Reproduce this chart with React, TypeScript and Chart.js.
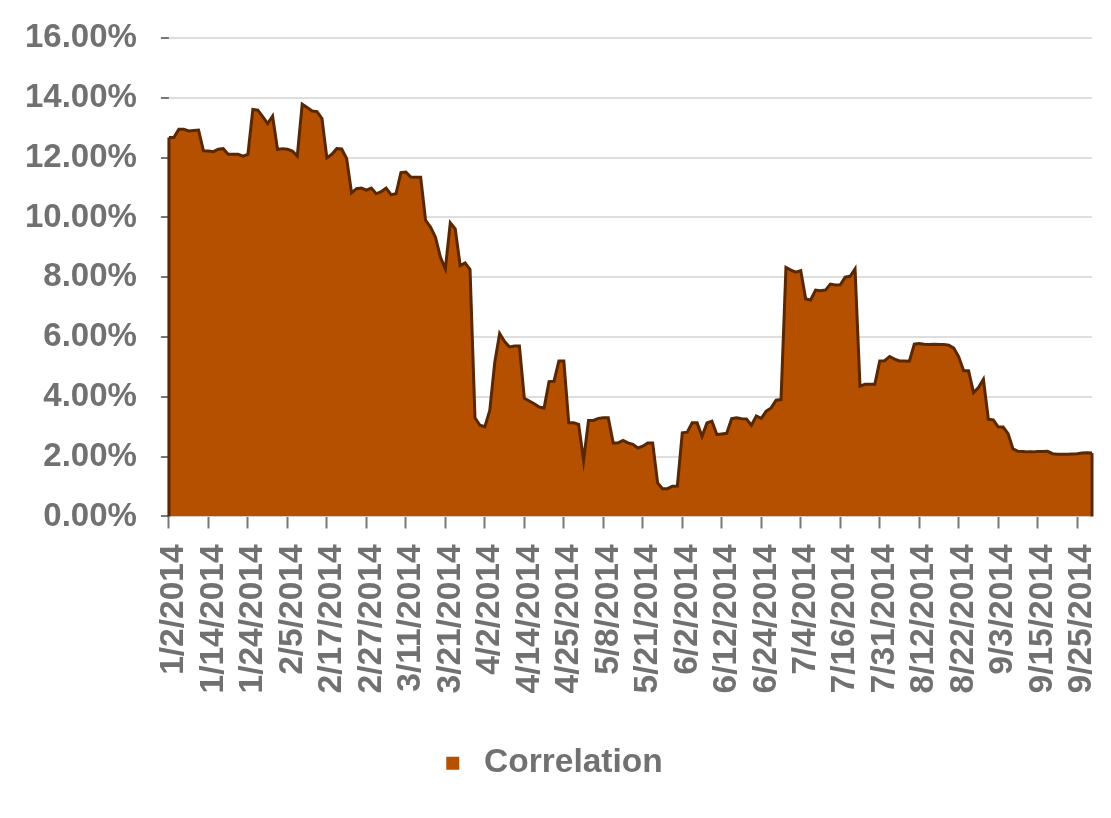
import React, { useEffect, useRef } from 'react';
import { Chart, registerables } from 'chart.js';

Chart.register(...registerables);

// Trading days (2014) per month
const JAN_DAYS = [2, 3, 6, 7, 8, 9, 10, 13, 14, 15, 16, 17, 20, 21, 22, 23, 24, 27, 28, 29, 30, 31];
const FEB_DAYS = [3, 4, 5, 6, 7, 10, 11, 12, 13, 14, 17, 18, 19, 20, 21, 24, 25, 26, 27, 28];
const MAR_DAYS = [3, 4, 5, 6, 7, 10, 11, 12, 13, 14, 17, 18, 19, 20, 21, 24, 25, 26, 27, 28, 31];
const APR_DAYS = [1, 2, 3, 4, 7, 8, 9, 10, 11, 14, 15, 16, 17, 21, 22, 23, 24, 25, 28, 29, 30];
const MAY_DAYS = [2, 5, 6, 7, 8, 9, 13, 14, 15, 16, 19, 20, 21, 22, 23, 26, 27, 28, 29, 30];
const JUN_DAYS = [2, 3, 4, 5, 6, 9, 10, 11, 12, 13, 16, 17, 18, 19, 20, 23, 24, 25, 26, 27, 30];
const JUL_DAYS = [1, 2, 3, 4, 7, 8, 9, 10, 11, 14, 15, 16, 17, 18, 21, 25, 28, 29, 30, 31];
const AUG_DAYS = [1, 4, 5, 6, 7, 8, 11, 12, 13, 14, 15, 18, 19, 20, 21, 22, 25, 26, 27, 28, 29];
const SEP_DAYS = [1, 2, 3, 4, 5, 8, 9, 10, 11, 12, 15, 16, 17, 18, 19, 22, 23, 24, 25, 26, 29, 30];

// Correlation values (%) per month
const JAN_VALUES = [12.67, 12.67, 12.95, 12.95, 12.89, 12.91, 12.92, 12.23, 12.22, 12.2, 12.28, 12.3, 12.11, 12.11, 12.11, 12.05, 12.11, 13.61, 13.59, 13.37, 13.14, 13.39];
const FEB_VALUES = [12.27, 12.3, 12.28, 12.22, 12.05, 13.79, 13.68, 13.56, 13.54, 13.31, 11.99, 12.11, 12.3, 12.29, 11.97, 10.82, 10.96, 10.98, 10.91, 10.98];
const MAR_VALUES = [10.79, 10.86, 10.98, 10.76, 10.79, 11.5, 11.52, 11.35, 11.34, 11.34, 9.9, 9.68, 9.34, 8.67, 8.28, 9.82, 9.62, 8.39, 8.48, 8.26, 3.3];
const APR_VALUES = [3.05, 3.0, 3.55, 5.14, 6.12, 5.85, 5.67, 5.7, 5.7, 3.95, 3.86, 3.77, 3.66, 3.63, 4.51, 4.52, 5.2, 5.2, 3.13, 3.13, 3.08];
const MAY_VALUES = [1.87, 3.21, 3.21, 3.28, 3.3, 3.3, 2.46, 2.46, 2.54, 2.46, 2.41, 2.29, 2.35, 2.46, 2.46, 1.12, 0.93, 0.93, 1.01, 1.02];
const JUN_VALUES = [2.8, 2.82, 3.13, 3.13, 2.68, 3.13, 3.19, 2.74, 2.76, 2.78, 3.27, 3.3, 3.27, 3.26, 3.05, 3.36, 3.28, 3.52, 3.63, 3.89, 3.91];
const JUL_VALUES = [8.33, 8.24, 8.17, 8.22, 7.27, 7.24, 7.57, 7.55, 7.57, 7.77, 7.74, 7.75, 8.0, 8.03, 8.28, 4.36, 4.42, 4.42, 4.42, 5.2];
const AUG_VALUES = [5.21, 5.35, 5.26, 5.2, 5.2, 5.19, 5.76, 5.78, 5.76, 5.75, 5.76, 5.75, 5.75, 5.73, 5.63, 5.34, 4.87, 4.87, 4.14, 4.31, 4.59];
const SEP_VALUES = [3.25, 3.23, 3.0, 2.99, 2.77, 2.26, 2.18, 2.17, 2.16, 2.16, 2.17, 2.17, 2.18, 2.1, 2.08, 2.08, 2.08, 2.09, 2.1, 2.12, 2.13, 2.12];

const Y_TICKS = [0, 2, 4, 6, 8, 10, 12, 14, 16];
const SERIES_NAME = 'Correlation';

const MONTH_DAYS = [JAN_DAYS, FEB_DAYS, MAR_DAYS, APR_DAYS, MAY_DAYS, JUN_DAYS, JUL_DAYS, AUG_DAYS, SEP_DAYS];
const MONTH_VALUES = [JAN_VALUES, FEB_VALUES, MAR_VALUES, APR_VALUES, MAY_VALUES, JUN_VALUES, JUL_VALUES, AUG_VALUES, SEP_VALUES];

const LABELS: string[] = MONTH_DAYS.flatMap((days, m) => days.map((d) => `${m + 1}/${d}/2014`));
const VALUES: number[] = MONTH_VALUES.flat();

const FILL = '#B45000';
const LINE = '#5A2700';
const TEXT = '#717171';
const GRID = '#DEDEDE';
const FONT = "'Liberation Sans', Arial, sans-serif";

const edgePlugin = {
  id: 'areaEdges',
  afterDatasetsDraw(chart: any) {
    const meta = chart.getDatasetMeta(0);
    if (!meta || !meta.data.length) return;
    const y0 = chart.scales.y.getPixelForValue(0);
    const ctx = chart.ctx;
    const pts = [meta.data[0], meta.data[meta.data.length - 1]];
    ctx.save();
    ctx.strokeStyle = LINE;
    ctx.lineWidth = 3;
    for (const p of pts) {
      ctx.beginPath();
      ctx.moveTo(p.x, p.y);
      ctx.lineTo(p.x, y0);
      ctx.stroke();
    }
    ctx.restore();
  },
};

export default function App() {
  const ref = useRef<HTMLCanvasElement | null>(null);

  useEffect(() => {
    if (!ref.current) return;
    const chart = new Chart(ref.current, {
      type: 'line',
      data: {
        labels: LABELS,
        datasets: [
          {
            label: SERIES_NAME,
            data: VALUES,
            fill: 'origin',
            backgroundColor: FILL,
            borderColor: LINE,
            borderWidth: 3,
            pointRadius: 0,
            tension: 0,
          },
        ],
      },
      options: {
        responsive: false,
        animation: false,
        devicePixelRatio: 1,
        layout: { padding: { top: 38, right: 19, left: 9, bottom: 28 } },
        plugins: {
          tooltip: { enabled: false },
          legend: {
            display: true,
            position: 'bottom',
            labels: {
              usePointStyle: true,
              boxWidth: 29,
              boxHeight: 13,
              padding: 37,
              color: TEXT,
              font: { family: FONT, size: 33.5, weight: 'bold' },
              generateLabels: () => [
                {
                  text: SERIES_NAME,
                  fillStyle: FILL,
                  strokeStyle: FILL,
                  lineWidth: 0,
                  pointStyle: 'rect',
                  hidden: false,
                  datasetIndex: 0,
                  fontColor: TEXT,
                },
              ],
            },
          },
        },
        scales: {
          x: {
            type: 'category',
            offset: false,
            border: { display: false },
            afterFit: (scale: any) => {
              scale.paddingRight = 0;
            },
            grid: {
              display: true,
              drawOnChartArea: false,
              drawTicks: true,
              tickLength: 12,
              tickColor: '#777777',
              tickWidth: 2,
            },
            ticks: {
              autoSkip: false,
              maxRotation: 90,
              minRotation: 90,
              padding: 16,
              labelOffset: 5,
              color: TEXT,
              font: { family: FONT, size: 33.5, weight: 'bold' },
              callback: (_v: any, idx: number) => (idx % 8 === 0 ? LABELS[idx] : null),
            },
          },
          y: {
            min: 0,
            max: 16,
            border: { display: false },
            afterBuildTicks: (scale: any) => {
              scale.ticks = Y_TICKS.map((v) => ({ value: v }));
            },
            afterFit: (scale: any) => {
              scale.paddingTop = 0;
              scale.paddingBottom = 0;
            },
            grid: {
              color: GRID,
              lineWidth: 2,
              drawTicks: true,
              tickLength: 16,
              tickColor: '#777777',
              tickWidth: 2,
              tickBorderDash: [8, 8],
              tickBorderDashOffset: 8,
            },
            ticks: {
              padding: 16,
              color: TEXT,
              font: { family: FONT, size: 33, weight: 'bold' },
              callback: (v: any) => `${Number(v).toFixed(2)}%`,
            },
          },
        },
      },
      plugins: [edgePlugin],
    });
    return () => chart.destroy();
  }, []);

  return (
    <div style={{ position: 'fixed', left: 0, top: 0, width: 1111, height: 818, background: '#fff' }}>
      <canvas ref={ref} width={1111} height={818} />
    </div>
  );
}
